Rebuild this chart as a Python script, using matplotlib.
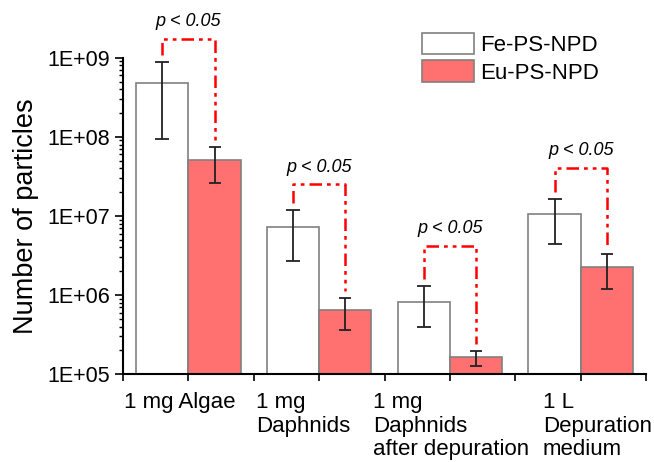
import matplotlib
matplotlib.use("Agg")
import matplotlib.pyplot as plt
import numpy as np
from matplotlib.patches import Patch

plt.rcParams["font.family"] = ["Liberation Sans", "DejaVu Sans"]

categories = ["1 mg Algae", "1 mg\nDaphnids", "1 mg\nDaphnids\nafter depuration", "1 L\nDepuration\nmedium"]
fe_vals = [4.8e8, 7.2e6, 8.3e5, 1.06e7]
fe_err_hi = [8.9e8, 1.19e7, 1.29e6, 1.64e7]
fe_err_lo = [9.4e7, 2.7e6, 3.9e5, 4.4e6]
eu_vals = [5.1e7, 6.5e5, 1.64e5, 2.25e6]
eu_err_hi = [7.4e7, 9.1e5, 1.95e5, 3.3e6]
eu_err_lo = [2.6e7, 3.6e5, 1.26e5, 1.2e6]
bracket_tops = [1.74e9, 2.54e7, 4.2e6, 4.1e7]
p_label = "p < 0.05"
y_ticks = [1e5, 1e6, 1e7, 1e8, 1e9]
y_tick_labels = ["1E+05", "1E+06", "1E+07", "1E+08", "1E+09"]

# label left edges (data units) - labels sit a bit off-centre in the original
label_x = [-0.49, 0.52, 1.41, 2.71]

RED = "#ff7070"
EDGE = "#808080"

fig = plt.figure(figsize=(6.54, 4.62), dpi=100)
ax = fig.add_axes([0.188, 0.190, 0.800, 0.685])

x = np.arange(len(categories))
w = 0.4
fe = np.array(fe_vals)
eu = np.array(eu_vals)

ax.bar(x - w / 2, fe, w, color="white", edgecolor=EDGE, linewidth=1.2, label="Fe-PS-NPD")
ax.bar(x + w / 2, eu, w, color=RED, edgecolor=EDGE, linewidth=1.2, label="Eu-PS-NPD")

fe_yerr = [fe - np.array(fe_err_lo), np.array(fe_err_hi) - fe]
eu_yerr = [eu - np.array(eu_err_lo), np.array(eu_err_hi) - eu]
ax.errorbar(x - w / 2, fe, yerr=fe_yerr, fmt="none", ecolor="#222222", elinewidth=1.3, capsize=5, capthick=1.3)
ax.errorbar(x + w / 2, eu, yerr=eu_yerr, fmt="none", ecolor="#222222", elinewidth=1.3, capsize=4, capthick=1.3)

ax.set_yscale("log")
ax.set_ylim(1e5, 1e9)
ax.set_xlim(-0.5, 3.5)
ax.set_yticks(y_ticks)
ax.set_yticklabels(y_tick_labels)
ax.yaxis.set_minor_locator(matplotlib.ticker.LogLocator(base=10, subs=np.arange(2, 10)))
ax.yaxis.set_minor_formatter(matplotlib.ticker.NullFormatter())
ax.set_xticks(np.arange(-0.5, 3.51, 0.5))
ax.set_xticklabels([])
ax.tick_params(axis="y", which="major", length=6, width=1.2, labelsize=15.5, pad=3)
ax.tick_params(axis="y", which="minor", length=3, width=1.0)
ax.tick_params(axis="x", length=5, width=1.2)

for s in ["top", "right"]:
    ax.spines[s].set_visible(False)
for s in ["left", "bottom"]:
    ax.spines[s].set_linewidth(1.5)

ax.set_ylabel("Number of particles", fontsize=19.5, labelpad=6)

for lx, lab in zip(label_x, categories):
    ax.annotate(lab, xy=(lx, 0), xycoords=("data", "axes fraction"), xytext=(0, -13),
                textcoords="offset points", ha="left", va="top", fontsize=16,
                linespacing=1.16, annotation_clip=False)

# significance brackets
gap = 10 ** 0.09
for i in range(len(categories)):
    top = bracket_tops[i]
    xl, xr = x[i] - w / 2, x[i] + w / 2
    ax.plot([xl, xl, xr, xr], [fe_err_hi[i] * gap, top, top, eu_err_hi[i] * gap],
            color="#ff0000", linewidth=1.8, linestyle=(0, (5, 2, 1.5, 2, 1.5, 2)),
            clip_on=False)
    ax.annotate(p_label, xy=(x[i], top), xytext=(0, 6), textcoords="offset points",
                ha="center", va="bottom", fontsize=13, style="italic",
                annotation_clip=False)

handles = [Patch(facecolor="white", edgecolor=EDGE, linewidth=1.2, label="Fe-PS-NPD"),
           Patch(facecolor=RED, edgecolor=EDGE, linewidth=1.2, label="Eu-PS-NPD")]
fig.legend(handles=handles, loc="upper left", bbox_to_anchor=(0.646, 0.929),
           frameon=False, fontsize=16, handlelength=2.3, handleheight=1.1,
           labelspacing=0.2, handletextpad=0.3, borderaxespad=0, borderpad=0)

fig.savefig("out.png", dpi=100)
